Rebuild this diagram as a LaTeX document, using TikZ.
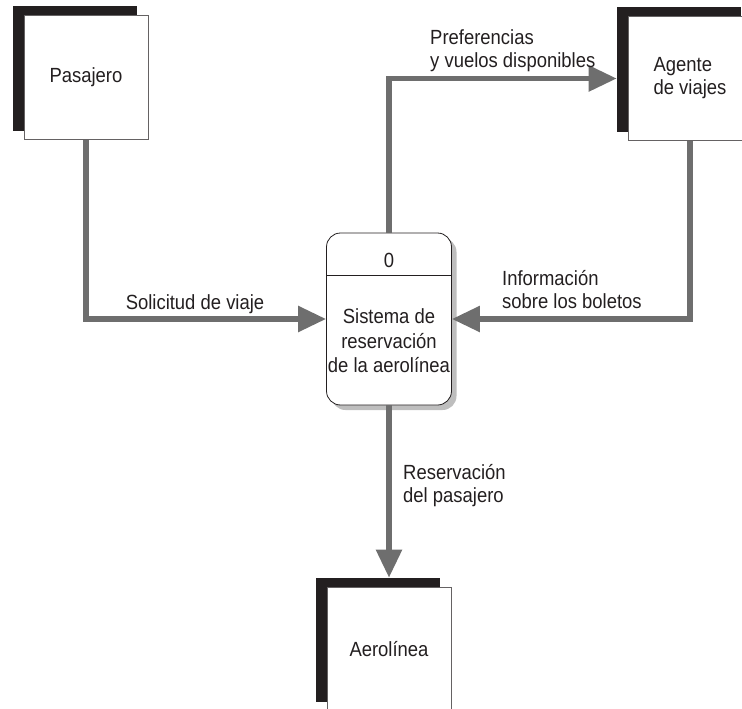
\documentclass[tikz,border=0pt]{standalone}
\usepackage{fontspec}
\setmainfont[FakeStretch=0.9]{Liberation Sans}
\usepackage{xcolor}
\usepackage{tikz}
\usetikzlibrary{arrows.meta,positioning,shadows,calc}

\definecolor{inkblk}{RGB}{35,31,32}
\definecolor{flowgray}{RGB}{110,110,110}
\definecolor{shadegray}{RGB}{190,190,190}

\begin{document}
\begin{tikzpicture}[x=1pt, y=-1pt,
    txt/.style={font=\fontsize{20.5}{23}\selectfont, text=inkblk, inner sep=0pt},
    entity/.style={txt, draw=inkblk!70, line width=0.6pt, fill=white,
        minimum width=124pt, minimum height=124pt, align=left,
        drop shadow={shadow xshift=-11pt, shadow yshift=9pt, fill=inkblk, opacity=1}},
    process/.style={draw=inkblk, line width=0.8pt, fill=white, rounded corners=14pt,
        minimum width=125pt, minimum height=172pt, inner sep=0pt,
        drop shadow={shadow xshift=5pt, shadow yshift=-5pt, fill=shadegray, opacity=1}},
    flow/.style={draw=flowgray, line width=5.5pt, -{Triangle[length=28pt, width=25pt]}}]

\useasboundingbox (0,0) rectangle (742,709);

% External entities
\node[entity] (pas) at (86,77.5) {Pasajero};
\node[entity] (age) at (690,78.5) {Agente\\de viajes};
\node[entity] (aer) at (389,649) {Aerolínea};

% Process 0
\node[process] (sys) at (389,319) {};
\draw[inkblk, line width=0.8pt] ([yshift=-43pt]sys.north west) -- ([yshift=-43pt]sys.north east);
\node[txt] (sysid) at (389,260) {0};
\node[txt, align=center, font=\fontsize{20.5}{24.5}\selectfont] (sysname) at (389,341)
    {Sistema de\\reservación\\de la aerolínea};

% Data flows
\draw[flow] (pas) |- (sys);
\draw[flow] (sys) |- ([xshift=-11pt]age.west);
\draw[flow] (age) |- (sys);
\draw[flow] (sys) -- ([yshift=9pt]aer.north);

% Flow labels
\node[txt, anchor=base] (solic) at (195,309) {Solicitud de viaje};
\node[txt, anchor=west, align=left] (pref) at (430,51) {Preferencias\\y vuelos disponibles};
\node[txt, anchor=west, align=left] (info) at (502,290) {Información\\sobre los boletos};
\node[txt, anchor=west, align=left] (resv) at (403,486) {Reservación\\del pasajero};

\end{tikzpicture}
\end{document}
